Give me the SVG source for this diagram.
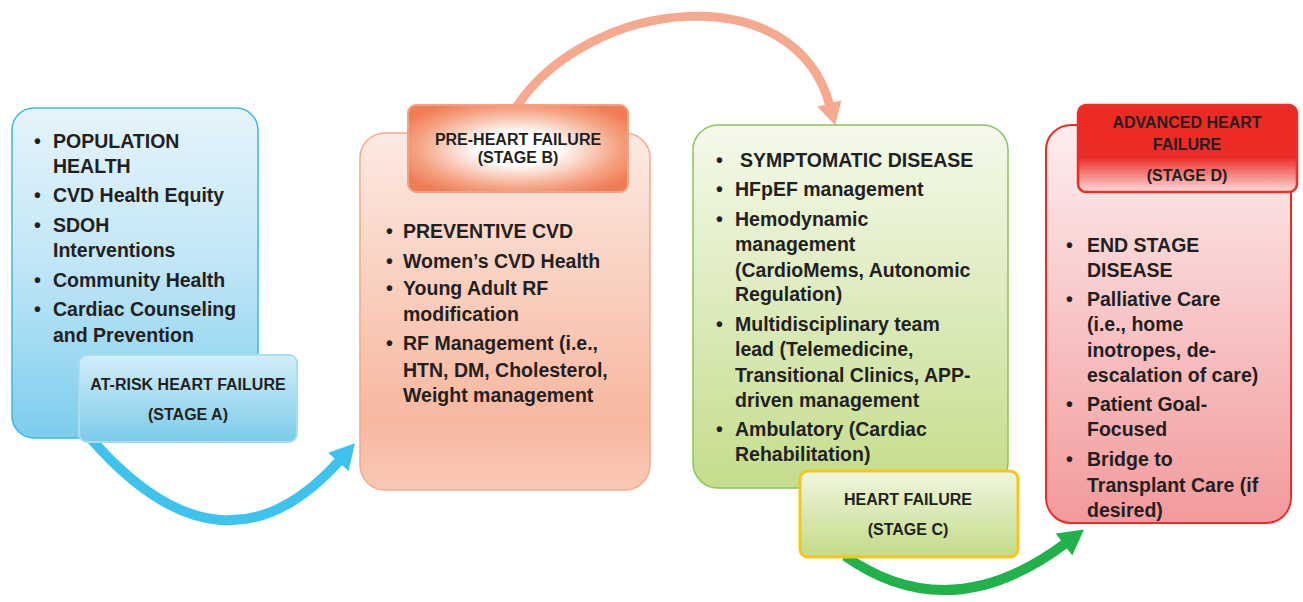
<svg xmlns="http://www.w3.org/2000/svg" width="1303" height="602" viewBox="0 0 1303 602">
  <style>
    text { font-family: "Liberation Sans", Arial, sans-serif; font-weight: bold; fill: #231f20; }
    .body { font-size: 19.5px; }
    .label { font-size: 16px; text-anchor: middle; }
    .arc { fill: none; }
  </style>
  <defs>
    <linearGradient id="gA" x1="0" y1="0" x2="0" y2="1">
      <stop offset="0" stop-color="#e6f4fb"/>
      <stop offset="0.45" stop-color="#c3e7f7"/>
      <stop offset="1" stop-color="#7dcdee"/>
    </linearGradient>
    <linearGradient id="gAl" x1="0" y1="0" x2="0" y2="1">
      <stop offset="0" stop-color="#d3eef9"/>
      <stop offset="1" stop-color="#7ccbea"/>
    </linearGradient>
    <linearGradient id="gB" x1="0" y1="0" x2="0" y2="1">
      <stop offset="0" stop-color="#fdeae3"/>
      <stop offset="0.8" stop-color="#f7b8a0"/>
      <stop offset="1" stop-color="#f9c8b6"/>
    </linearGradient>
    <radialGradient id="gBh" cx="0.5" cy="0.5" r="0.6">
      <stop offset="0" stop-color="#ffffff"/>
      <stop offset="0.3" stop-color="#ffffff"/>
      <stop offset="0.75" stop-color="#f5a585"/>
      <stop offset="1" stop-color="#ee7d54"/>
    </radialGradient>
    <linearGradient id="gC" x1="0" y1="0" x2="0" y2="1">
      <stop offset="0" stop-color="#f5f9ec"/>
      <stop offset="1" stop-color="#c4dd8b"/>
    </linearGradient>
    <linearGradient id="gCl" x1="0" y1="0" x2="0" y2="1">
      <stop offset="0" stop-color="#f0f6e0"/>
      <stop offset="1" stop-color="#c2db88"/>
    </linearGradient>
    <linearGradient id="gD" x1="0" y1="0" x2="0" y2="1">
      <stop offset="0" stop-color="#fdeeee"/>
      <stop offset="1" stop-color="#f29a9c"/>
    </linearGradient>
    <linearGradient id="gDh" x1="0" y1="0" x2="0" y2="1">
      <stop offset="0" stop-color="#ec2a24"/>
      <stop offset="0.6" stop-color="#ec2c26"/>
      <stop offset="1" stop-color="#fcdcdb"/>
    </linearGradient>
    <marker id="headBlue" markerUnits="userSpaceOnUse" markerWidth="30" markerHeight="30" viewBox="-2 -12 24 24" refX="2" refY="0" orient="auto">
      <path d="M0,-11 L20,0 L0,11 z" fill="#3ec3ef"/>
    </marker>
    <marker id="headOrange" markerUnits="userSpaceOnUse" markerWidth="30" markerHeight="30" viewBox="-2 -12 24 24" refX="2" refY="0" orient="auto">
      <path d="M0,-10 L18,0 L0,10 z" fill="#f5a98e"/>
    </marker>
    <marker id="headGreen" markerUnits="userSpaceOnUse" markerWidth="30" markerHeight="30" viewBox="-2 -12 24 24" refX="2" refY="0" orient="auto">
      <path d="M0,-11 L20,0 L0,11 z" fill="#22b24c"/>
    </marker>
  </defs>

  <rect width="1303" height="602" fill="#ffffff"/>

  <!-- curved arrows linking the stages -->
  <g id="connectors">
    <path class="arc" d="M92,440 Q224,590 340,460" stroke="#3ec3ef" stroke-width="10" marker-end="url(#headBlue)"/>
    <path class="arc" d="M517,106 C590,-2 795,-25 830,106" stroke="#f5a98e" stroke-width="9" marker-end="url(#headOrange)"/>
    <path class="arc" d="M845,556 Q950,630 1066,543" stroke="#22b24c" stroke-width="10" marker-end="url(#headGreen)"/>
  </g>

  <!-- Stage A -->
  <g id="stageA">
    <rect x="12" y="108" width="246" height="330" rx="22" fill="url(#gA)" stroke="#3cb8e8" stroke-width="1.5"/>
    <text class="body" x="34" y="148">•</text><text class="body" x="53" y="148">POPULATION</text>
    <text class="body" x="53" y="173">HEALTH</text>
    <text class="body" x="34" y="202">•</text><text class="body" x="53" y="202">CVD Health Equity</text>
    <text class="body" x="34" y="232">•</text><text class="body" x="53" y="232">SDOH</text>
    <text class="body" x="53" y="257">Interventions</text>
    <text class="body" x="34" y="287">•</text><text class="body" x="53" y="287">Community Health</text>
    <text class="body" x="34" y="316">•</text><text class="body" x="53" y="316">Cardiac Counseling</text>
    <text class="body" x="53" y="342">and Prevention</text>
    <rect x="79" y="355" width="218" height="87" rx="8" fill="url(#gAl)" stroke="#a9ddf2" stroke-width="2"/>
    <text class="label" x="188" y="390">AT-RISK HEART FAILURE</text>
    <text class="label" x="188" y="420">(STAGE A)</text>
  </g>

  <!-- Stage B -->
  <g id="stageB">
    <rect x="360" y="133" width="290" height="357" rx="25" fill="url(#gB)" stroke="#f5a98a" stroke-width="1.5"/>
    <rect x="408" y="105" width="220" height="87" rx="8" fill="url(#gBh)" stroke="#f4a184" stroke-width="2"/>
    <text class="label" x="518" y="145">PRE-HEART FAILURE</text>
    <text class="label" x="518" y="163">(STAGE B)</text>
    <text class="body" x="386" y="238">•</text><text class="body" x="403" y="238">PREVENTIVE CVD</text>
    <text class="body" x="386" y="268">•</text><text class="body" x="403" y="268">Women’s CVD Health</text>
    <text class="body" x="386" y="295">•</text><text class="body" x="403" y="295">Young Adult RF</text>
    <text class="body" x="403" y="321">modification</text>
    <text class="body" x="386" y="350">•</text><text class="body" x="403" y="350">RF Management (i.e.,</text>
    <text class="body" x="403" y="377">HTN, DM, Cholesterol,</text>
    <text class="body" x="403" y="402">Weight management</text>
  </g>

  <!-- Stage C -->
  <g id="stageC">
    <rect x="693" y="125" width="315" height="363" rx="25" fill="url(#gC)" stroke="#86c65a" stroke-width="1.5"/>
    <text class="body" x="716" y="167">•</text><text class="body" x="740" y="167">SYMPTOMATIC DISEASE</text>
    <text class="body" x="716" y="196">•</text><text class="body" x="735" y="196">HFpEF management</text>
    <text class="body" x="716" y="226">•</text><text class="body" x="735" y="226">Hemodynamic</text>
    <text class="body" x="735" y="251">management</text>
    <text class="body" x="735" y="277">(CardioMems, Autonomic</text>
    <text class="body" x="735" y="301">Regulation)</text>
    <text class="body" x="716" y="331">•</text><text class="body" x="735" y="331">Multidisciplinary team</text>
    <text class="body" x="735" y="356">lead (Telemedicine,</text>
    <text class="body" x="735" y="382">Transitional Clinics, APP-</text>
    <text class="body" x="735" y="407">driven management</text>
    <text class="body" x="716" y="436">•</text><text class="body" x="735" y="436">Ambulatory (Cardiac</text>
    <text class="body" x="735" y="461">Rehabilitation)</text>
    <rect x="800" y="471" width="218" height="86" rx="8" fill="url(#gCl)" stroke="#f6c61a" stroke-width="3"/>
    <text class="label" x="908" y="505">HEART FAILURE</text>
    <text class="label" x="908" y="535">(STAGE C)</text>
  </g>

  <!-- Stage D -->
  <g id="stageD">
    <rect x="1046" y="125" width="245" height="398" rx="25" fill="url(#gD)" stroke="#ec2b27" stroke-width="2"/>
    <rect x="1078" y="105" width="219" height="87" rx="8" fill="url(#gDh)" stroke="#e8302a" stroke-width="2.5"/>
    <text class="label" x="1187" y="128">ADVANCED HEART</text>
    <text class="label" x="1187" y="150">FAILURE</text>
    <text class="label" x="1187" y="181">(STAGE D)</text>
    <text class="body" x="1066" y="252">•</text><text class="body" x="1087" y="252">END STAGE</text>
    <text class="body" x="1087" y="277">DISEASE</text>
    <text class="body" x="1066" y="306">•</text><text class="body" x="1087" y="306">Palliative Care</text>
    <text class="body" x="1087" y="331">(i.e., home</text>
    <text class="body" x="1087" y="357">inotropes, de-</text>
    <text class="body" x="1087" y="382">escalation of care)</text>
    <text class="body" x="1066" y="411">•</text><text class="body" x="1087" y="411">Patient Goal-</text>
    <text class="body" x="1087" y="436">Focused</text>
    <text class="body" x="1066" y="466">•</text><text class="body" x="1087" y="466">Bridge to</text>
    <text class="body" x="1087" y="492">Transplant Care (if</text>
    <text class="body" x="1087" y="517">desired)</text>
  </g>
</svg>
